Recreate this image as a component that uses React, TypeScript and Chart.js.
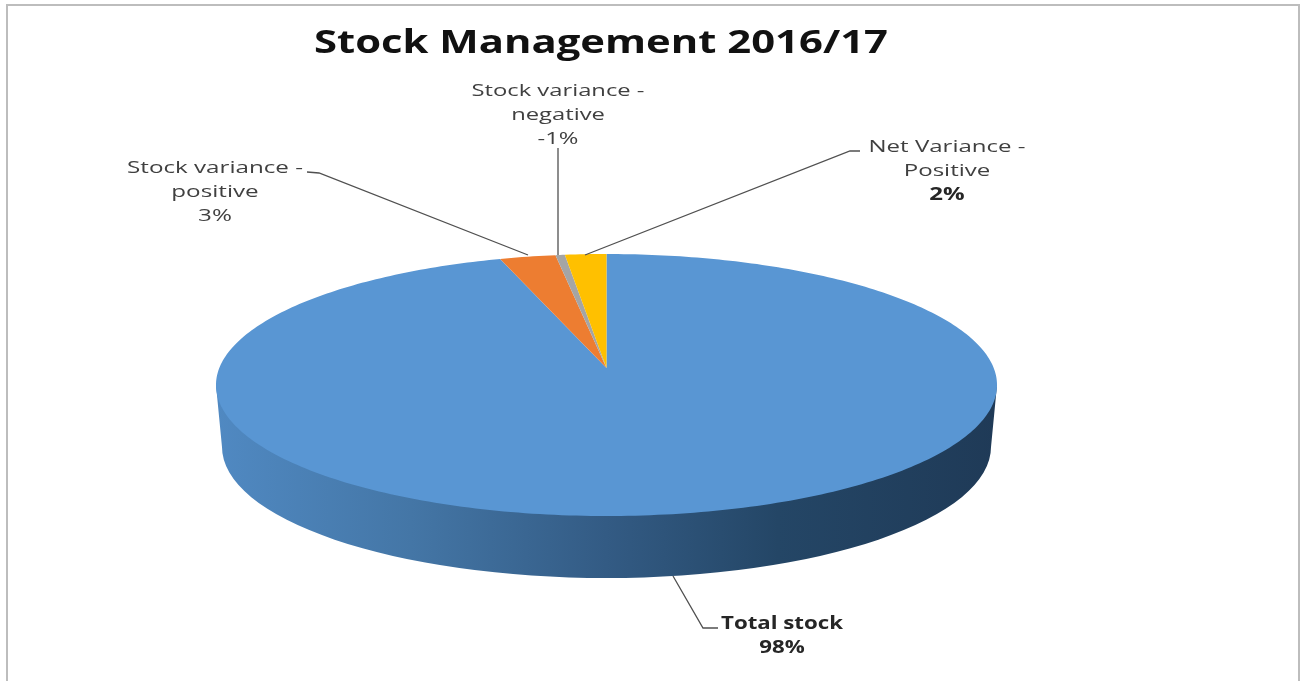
import React, { useEffect, useRef } from "react";
import { Chart, registerables } from "chart.js";

Chart.register(...registerables);

const chartTitle = "Stock Management 2016/17";
const categories = ["Total stock", "Stock variance - positive", "Stock variance - negative", "Net Variance - Positive"];
// slice sizes
const sliceValues = [98, 2.7, 0.45, 2];
// percentages printed on the labels
const labelPercents = ["98%", "3%", "-1%", "2%"];
const sliceColors = ["#5996d3", "#ed7d31", "#a5a5a5", "#ffc000"];

const labelLines = [
  ["Total stock", "98%"],
  ["Stock variance -", "positive", "3%"],
  ["Stock variance -", "negative", "-1%"],
  ["Net Variance -", "Positive", "2%"],
];
const labelBoxes = [
  { x: 782, y: 624, w: 122, bold: [true, true] },
  { x: 215, y: 168, w: 176, bold: [false, false, false] },
  { x: 558, y: 91, w: 173, bold: [false, false, false] },
  { x: 947, y: 147, w: 157, bold: [false, false, true] },
];
const leaders = [
  [[673, 576], [703, 628], [718, 628]],
  [[307, 172], [319, 173], [528, 255]],
  [[558, 148], [558, 255]],
  [[860, 151], [850, 151], [585, 255]],
];

const STRETCH_X = 1.2907;
const STRETCH_Y = 0.4293;
const TILT = 0.1298;
const DEPTH = 62;

function project(arc: any, a: number) {
  const u = Math.cos(a);
  const v = Math.sin(a);
  const d = 1 - TILT * v;
  return {
    x: arc.x + (arc.outerRadius * STRETCH_X * u) / d,
    y: arc.y + (arc.outerRadius * STRETCH_Y * v) / d,
  };
}

function fitText(ctx: CanvasRenderingContext2D, text: string, cx: number, cy: number, font: string, sx: number, color: string) {
  ctx.save();
  ctx.font = font;
  ctx.fillStyle = color;
  ctx.textAlign = "center";
  ctx.textBaseline = "middle";
  ctx.translate(cx, cy);
  ctx.scale(sx, 1);
  ctx.fillText(text, 0, 0);
  ctx.restore();
}

const pie3d = {
  id: "pie3d",
  beforeDatasetsDraw(chart: any) {
    const ctx: CanvasRenderingContext2D = chart.ctx;
    const arcs = chart.getDatasetMeta(0).data;
    const first = arcs[0];
    const cxE = first.x;
    const rx = first.outerRadius * 1.3017;
    const ryE = first.outerRadius * 0.4367;
    const cyE = first.y + 17;

    // frame
    ctx.save();
    ctx.strokeStyle = "#bdbdbd";
    ctx.lineWidth = 2;
    ctx.beginPath();
    ctx.moveTo(7, 684);
    ctx.lineTo(7, 5);
    ctx.lineTo(1299, 5);
    ctx.lineTo(1299, 684);
    ctx.stroke();
    ctx.restore();

    // side wall
    const grad = ctx.createLinearGradient(cxE - rx, 0, cxE + rx, 0);
    grad.addColorStop(0, "#5089c2");
    grad.addColorStop(0.25, "#4476a6");
    grad.addColorStop(0.5, "#335b84");
    grad.addColorStop(0.72, "#244666");
    grad.addColorStop(1, "#1f3a57");
    ctx.save();
    ctx.fillStyle = grad;
    ctx.beginPath();
    ctx.moveTo(cxE - rx, cyE);
    ctx.lineTo(cxE - rx + 6, cyE + DEPTH);
    ctx.ellipse(cxE, cyE + DEPTH, rx - 6, ryE, 0, Math.PI, 0, true);
    ctx.lineTo(cxE + rx, cyE);
    ctx.closePath();
    ctx.fill();
    ctx.restore();

    // top faces, using the angles computed by the library
    arcs.forEach((arc: any) => {
      const n = Math.max(4, Math.ceil((arc.endAngle - arc.startAngle) * 60));
      ctx.beginPath();
      ctx.moveTo(arc.x, arc.y);
      for (let i = 0; i <= n; i++) {
        const p = project(arc, arc.startAngle + ((arc.endAngle - arc.startAngle) * i) / n);
        ctx.lineTo(p.x, p.y);
      }
      ctx.closePath();
      ctx.fillStyle = arc.options.backgroundColor;
      ctx.fill();
    });

    // leader lines
    ctx.save();
    ctx.strokeStyle = "#505050";
    ctx.lineWidth = 1.3;
    leaders.forEach((pts) => {
      ctx.beginPath();
      pts.forEach(([x, y], i) => (i ? ctx.lineTo(x, y) : ctx.moveTo(x, y)));
      ctx.stroke();
    });
    ctx.restore();

    // data labels
    labelBoxes.forEach((b, i) => {
      ctx.font = `${b.bold[0] ? "bold " : ""}17px "Open Sans"`;
      const sx = b.w / ctx.measureText(labelLines[i][0]).width;
      labelLines[i].forEach((line, j) => {
        const font = `${b.bold[j] ? "bold " : ""}17px "Open Sans"`;
        fitText(ctx, line, b.x, b.y + j * 24, font, sx, b.bold[j] ? "#262626" : "#404040");
      });
    });

    // title
    const titleFont = 'bold 33px "Open Sans"';
    ctx.font = titleFont;
    const sx = 574 / ctx.measureText(chartTitle).width;
    fitText(ctx, chartTitle, 601, 44, titleFont, sx, "#111111");
    return false;
  },
};

export default function App() {
  const ref = useRef<HTMLCanvasElement>(null);
  useEffect(() => {
    const chart = new Chart(ref.current!, {
      type: "pie",
      data: {
        labels: categories.map((c, i) => `${c} ${labelPercents[i]}`),
        datasets: [{ data: sliceValues, backgroundColor: sliceColors, borderWidth: 0 }],
      },
      options: {
        responsive: false,
        animation: false,
        layout: { padding: { left: 0, right: 89, top: 68, bottom: 13 } },
        plugins: { legend: { display: false }, tooltip: { enabled: false }, title: { display: false, text: chartTitle } },
      },
      plugins: [pie3d],
    });
    return () => chart.destroy();
  }, []);
  return (
    <div style={{ position: "absolute", left: 0, top: 0, width: 1302, height: 681, overflow: "hidden", background: "#fff" }}>
      <canvas ref={ref} width={1302} height={681} style={{ display: "block", filter: "blur(0.7px)" }} />
    </div>
  );
}
